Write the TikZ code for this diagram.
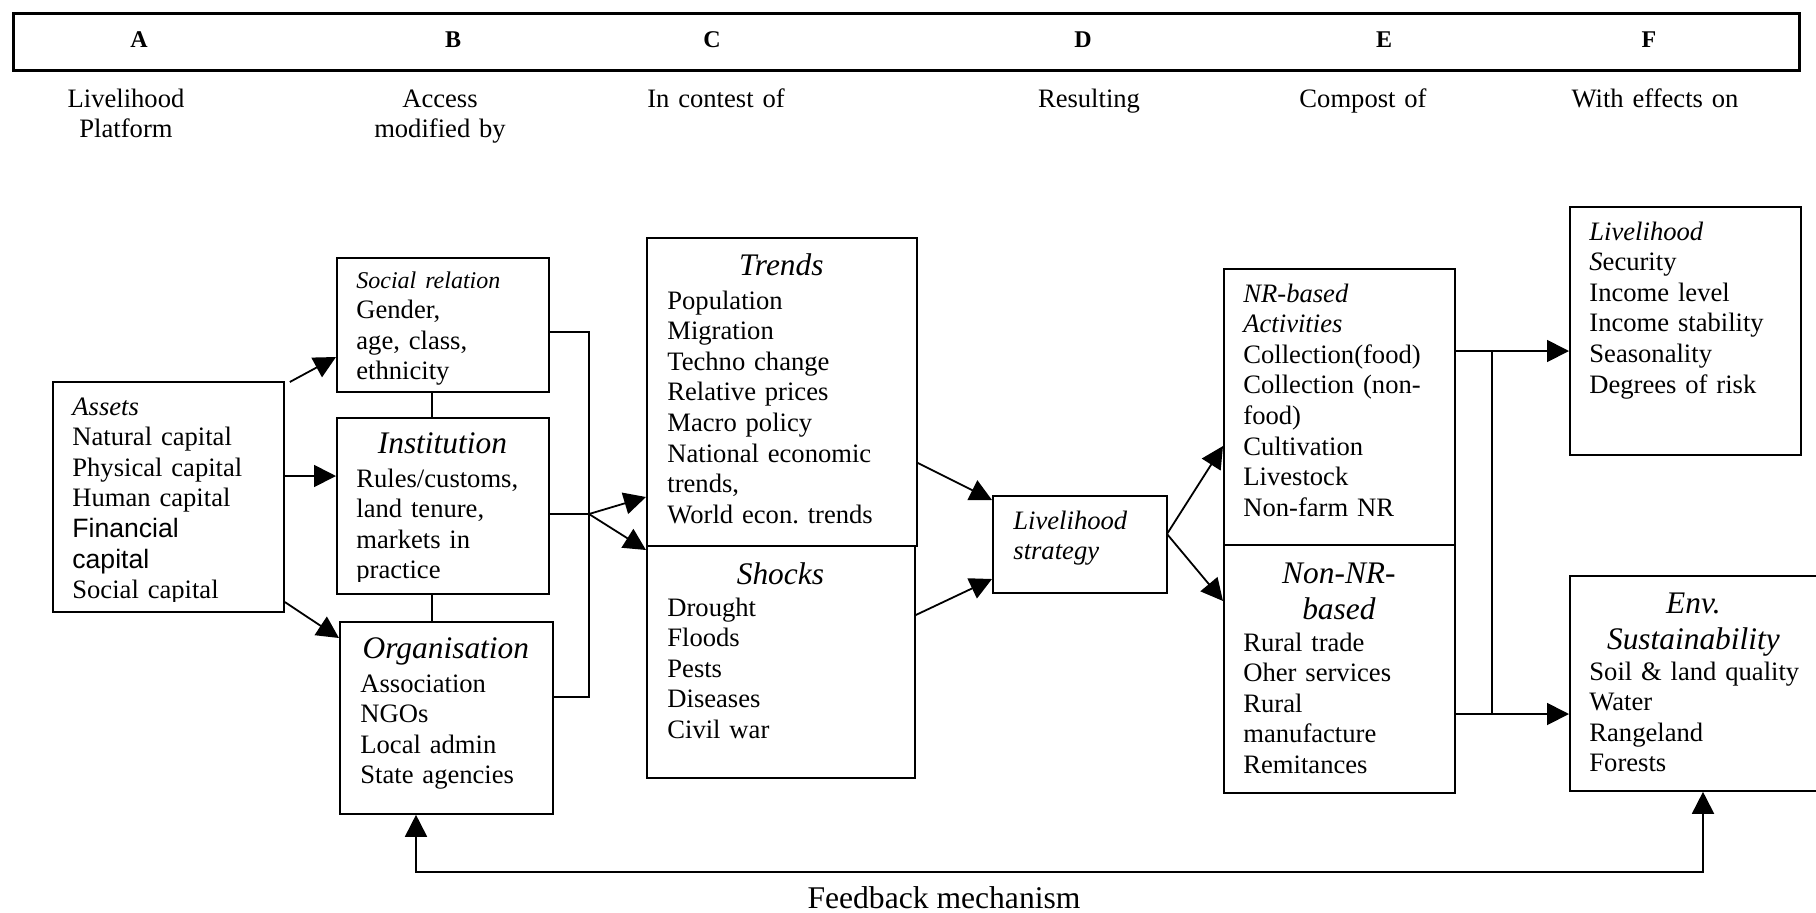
\documentclass[tikz,border=0pt]{standalone}
\usepackage{fontspec}
\setmainfont{Liberation Serif}
\setsansfont{Liberation Sans}
\usepackage{tikz}
\usetikzlibrary{arrows.meta}
\frenchspacing
\newcommand{\bodysize}{\fontsize{13.3}{15.3}\selectfont}
\newcommand{\headit}{\fontsize{15.7}{18}\selectfont\itshape}
\tikzset{
    box/.style={draw, line width=0.9pt, anchor=north west, inner sep=0pt},
    boxtext/.style={anchor=base west, inner sep=0pt, align=left, font=\bodysize},
    hdr label/.style={anchor=base, inner sep=0pt, align=center, text width=110pt, font=\bodysize},
    col letter/.style={font=\fontsize{12}{14}\selectfont\bfseries, inner sep=0pt},
    link/.style={line width=0.9pt},
    arr/.style={line width=0.9pt, -{Triangle[length=11pt, width=11pt]}},
    arr both/.style={line width=0.9pt, {Triangle[length=11pt, width=11pt]}-{Triangle[length=11pt, width=11pt]}}
}

\begin{document}
\begin{tikzpicture}[x=0.5pt, y=-0.5pt]
    \clip (0,0) rectangle (1816,912);

    % column bar
    \node[box, line width=1.4pt, minimum width=893pt, minimum height=28.5pt] (colbar) at (12,12) {};
    \node[col letter] (colA) at (139,40) {A};
    \node[col letter] (colB) at (453,40) {B};
    \node[col letter] (colC) at (712,40) {C};
    \node[col letter] (colD) at (1083,40) {D};
    \node[col letter] (colE) at (1384,40) {E};
    \node[col letter] (colF) at (1649,40) {F};

    \node[hdr label] (labA) at (126,107) {Livelihood\\ Platform};
    \node[hdr label] (labB) at (440,107) {Access\hspace*{8pt}\\ modified by};
    \node[hdr label] (labC) at (716,107) {In contest of};
    \node[hdr label] (labD) at (1089,107) {Resulting};
    \node[hdr label] (labE) at (1363,107) {Compost of};
    \node[hdr label] (labF) at (1655,107) {With effects on};

    % boxes
    \node[box, minimum width=115.5pt, minimum height=115pt] (assets) at (52,381) {};
    \node[box, minimum width=106pt, minimum height=67pt] (social) at (336,257) {};
    \node[box, minimum width=106pt, minimum height=88pt] (inst) at (336,417) {};
    \node[box, minimum width=106.5pt, minimum height=96pt] (org) at (339,621) {};
    \node[box, minimum width=135pt, minimum height=154pt] (trends) at (646,237) {};
    \node[box, minimum width=134pt, minimum height=116pt] (shocks) at (646,545) {};
    \node[box, minimum width=87pt, minimum height=48.5pt] (strat) at (992,495) {};
    \node[box, minimum width=115.5pt, minimum height=138pt] (nr) at (1223,268) {};
    \node[box, minimum width=115.5pt, minimum height=124pt] (nonnr) at (1223,544) {};
    \node[box, minimum width=115.5pt, minimum height=124pt] (ls) at (1569,206) {};
    \node[box, minimum width=126.5pt, minimum height=107.5pt] (env) at (1569,575) {};

    % box texts
    \begin{scope}
        \clip (52,381) rectangle (283,601);
        \node[boxtext, text width=95.5pt] (assetsTxt) at (72,415)
            {{\itshape Assets}\\ Natural capital\\ Physical capital\\ Human capital\\
             {\sffamily Financial\\ capital}\\ Social capital};
    \end{scope}
    \node[boxtext, text width=86pt] (socialTxt) at (356,288)
        {{\fontsize{12}{14}\selectfont\itshape Social relation}\\ Gender,\\ age, class,\\ ethnicity};
    \begin{scope}
        \clip (336,417) rectangle (548,581);
        \node[boxtext, text width=86pt] (instTxt) at (356,453)
            {{\centering\headit Institution\par}\vspace{1.7pt}
             Rules/customs,\\ land tenure,\\ markets in\\ practice};
    \end{scope}
    \node[boxtext, text width=85.5pt] (orgTxt) at (360,658)
        {{\centering\headit Organisation\par}\vspace{1.7pt}
         Association\\ NGOs\\ Local admin\\ State agencies};
    \node[boxtext, text width=114pt] (trendsTxt) at (667,275)
        {{\centering\headit Trends\par}\vspace{1.7pt}
         Population\\ Migration\\ Techno change\\ Relative prices\\ Macro policy\\
         National economic\\ trends,\\ World econ. trends};
    \node[boxtext, text width=113pt] (shocksTxt) at (667,584)
        {{\centering\headit Shocks\par}\vspace{0.7pt}
         Drought\\ Floods\\ Pests\\ Diseases\\ Civil war};
    \node[boxtext, text width=66pt] (stratTxt) at (1013,529)
        {\itshape Livelihood\\ strategy};
    \node[boxtext, text width=95.5pt] (nrTxt) at (1243,302)
        {{\itshape NR-based}\\ {\itshape Activities}\\ Collection(food)\\ Collection (non-\\
         food)\\ Cultivation\\ Livestock\\ Non-farm NR};
    \node[boxtext, text width=95.5pt] (nonnrTxt) at (1243,583)
        {{\centering\headit Non-NR-\\ based\par}\vspace{0.7pt}
         Rural trade\\ Oher services\\ Rural\\ manufacture\\ Remitances};
    \node[boxtext, text width=95.5pt] (lsTxt) at (1589,240)
        {{\itshape Livelihood}\\ \textit{S}ecurity\\ Income level\\ Income stability\\
         Seasonality\\ Degrees of risk};
    \node[boxtext, text width=104pt] (envTxt) at (1589,613)
        {{\centering\headit Env.\\ Sustainability\par}\vspace{0.2pt}
         \mbox{Soil \& land quality}\\ Water\\ Rangeland\\ Forests};

    % connectors
    \draw[arr] ([shift={(5,1)}]assets.north east) -- (social.west |- 0,357);
    \draw[arr] (assets.east |- 0,476) -- (inst.west |- 0,476);
    \draw[arr] (assets.east |- 0,602) -- (org.west |- 0,638);
    \draw[link] (social.south -| 432,0) -- (inst.north -| 432,0);
    \draw[link] (inst.south -| 432,0) -- (org.north -| 432,0);

    \coordinate (jn) at (589,514);
    \draw[link] (social.east |- 0,332) -| (jn) |- (org.east |- 0,697);
    \draw[link] (inst.east |- jn) -- (jn);
    \draw[arr] (jn) -- (trends.west |- 0,497);
    \draw[arr] (jn) -- (shocks.west |- 0,550);

    \draw[arr] (trends.east |- 0,463) -- (strat.west |- 0,500);
    \draw[arr] (shocks.east |- 0,615) -- (strat.west |- 0,579);

    \coordinate (fork) at (1167,534);
    \draw[arr] (fork) -- (nr.west |- 0,446);
    \draw[arr] (fork) -- (nonnr.west |- 0,601);

    \coordinate (tapA) at (1492,351);
    \coordinate (tapB) at (1492,714);
    \draw[arr] (nr.east |- tapA) -- (ls.west |- tapA);
    \draw[arr] (nonnr.east |- tapB) -- (env.west |- tapB);
    \draw[link] (tapA) -- (tapB);

    \draw[arr both] (org.south -| 416,0) -- ++(0,57) -| (env.south -| 1703,0);
    \node[anchor=base, inner sep=0pt, font=\fontsize{15.8}{18}\selectfont] (fbLabel) at (944,908) {Feedback mechanism};
\end{tikzpicture}
\end{document}
